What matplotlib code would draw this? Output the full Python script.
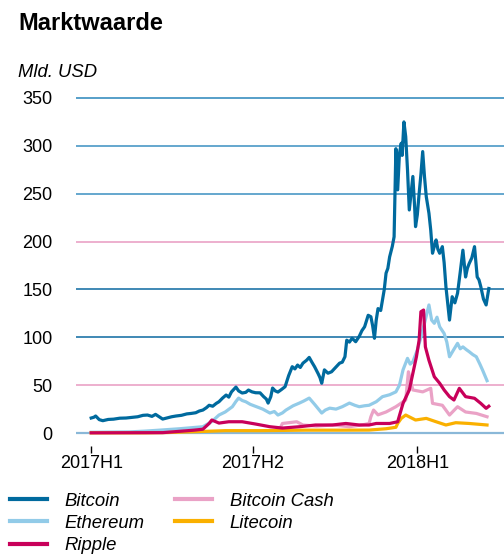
import numpy as np
import pandas as pd
import matplotlib
matplotlib.use("Agg")
import matplotlib.pyplot as plt

plt.rcParams['font.family'] = ['Liberation Sans', 'DejaVu Sans']

start = pd.Timestamp("2017-01-01")

# days since 2017-01-01, market value in bn USD
btc_days = [0, 3, 5, 9, 13, 19, 25, 32, 39, 45, 52, 58, 63, 68, 72, 76, 80, 86, 90, 95, 101, 107,
            112, 117, 121, 125, 129, 132, 136, 140, 143, 147, 151, 154, 157, 162, 165, 169, 173,
            176, 180, 184, 189, 193, 196, 198, 201, 203, 206, 209, 213, 217, 221, 225, 228, 231,
            234, 237, 241, 244, 247, 250, 254, 256, 258, 261, 265, 269, 273, 278, 281, 284,
            286, 289, 292, 296, 300, 303, 306, 310, 313, 315, 317, 319, 321, 324, 326, 328, 330,
            332, 334, 337, 339, 341, 343, 345, 347, 348, 350, 352, 354, 356, 358, 360, 362, 363,
            365, 367, 369, 371, 373, 375, 378, 380, 382, 384, 386, 388, 390, 393, 395, 397, 399,
            401, 404, 407, 410, 413, 416, 419, 421, 423, 426, 429, 432, 434, 436, 439, 442, 445]
btc_vals = [15.7, 16.5, 17.8, 14.0, 12.9, 14.2, 14.5, 15.5, 15.7, 16.3, 17.0, 18.5, 18.8, 17.4,
            19.5, 17.0, 14.6, 16.0, 17.0, 17.8, 18.5, 20.0, 20.5, 21.2, 23.0, 24.0, 26.5, 29.0,
            28.0, 31.0, 32.7, 36.5, 39.7, 37.5, 43.0, 48.0, 44.0, 41.8, 42.5, 44.9, 43.0, 42.1,
            42.0, 38.0, 35.5, 31.3, 38.0, 47.0, 44.0, 42.8, 45.5, 48.4, 60.0, 69.3, 67.0, 71.0,
            68.5, 73.0, 76.0, 79.0, 74.0, 69.3, 62.0, 58.0, 52.0, 66.0, 62.5, 64.0, 68.0, 73.0,
            74.0, 79.7, 97.0, 95.0, 99.0, 95.4, 101.0, 107.0, 111.0, 123.0, 121.5, 112.0, 99.0,
            118.0, 130.0, 128.0, 139.0, 150.0, 167.0, 172.0, 184.0, 195.0, 205.0, 297.0, 254.0,
            292.0, 302.7, 290.0, 325.0, 309.6, 275.0, 233.0, 250.0, 268.0, 236.0, 215.6, 228.0,
            250.0, 270.0, 294.0, 268.0, 247.0, 229.6, 212.0, 187.8, 195.0, 201.7, 192.0, 187.8,
            194.7, 178.0, 152.9, 135.0, 118.0, 142.4, 136.0, 146.0, 168.0, 191.0, 163.0, 172.0,
            177.0, 183.0, 194.7, 163.0, 160.0, 153.0, 140.0, 133.8, 151.0]

eth_days = [0, 43, 60, 76, 99, 125, 135, 143, 150, 158, 162, 165, 169, 173, 178, 185, 192, 200,
            205, 209, 214, 218, 226, 233, 238, 244, 250, 258, 262, 267, 274, 281, 289, 295, 300,
            306, 311, 319, 326, 334, 341, 345, 349, 354, 357, 360, 365, 369, 373, 378, 381, 384,
            387, 390, 395, 398, 401, 405, 410, 413, 416, 420, 423, 427, 431, 435, 438, 443]
eth_vals = [0.8, 1.2, 2.0, 3.0, 4.5, 6.6, 12.0, 18.8, 22.0, 27.5, 33.0, 36.5, 34.0, 32.7, 30.0,
            27.5, 25.0, 20.9, 22.5, 18.8, 21.0, 24.0, 28.5, 31.3, 33.5, 36.5, 30.0, 20.9, 24.0,
            26.0, 25.0, 27.5, 31.3, 29.0, 27.5, 28.5, 29.0, 32.7, 38.0, 40.0, 43.0, 50.0, 66.0,
            78.0, 72.0, 74.5, 86.7, 100.0, 114.6, 133.8, 118.0, 114.6, 121.0, 111.0, 104.0, 95.0,
            79.7, 86.0, 93.7, 88.0, 90.0, 87.0, 85.0, 82.0, 79.7, 72.0, 65.8, 54.7]

xrp_days = [0, 80, 95, 115, 125, 132, 135, 143, 154, 169, 184, 200, 214, 233, 251, 270, 285,
            300, 311, 319, 334, 343, 349, 356, 364, 367, 369, 372, 374, 378, 384, 390, 395, 401,
            406, 412, 419, 429, 436, 442, 445]
xrp_vals = [0.2, 0.4, 1.5, 3.0, 4.0, 10.0, 13.6, 10.4, 11.8, 11.8, 9.4, 6.6, 5.2, 6.6, 8.4, 8.4,
            10.0, 8.4, 8.4, 10.0, 10.0, 11.8, 31.0, 45.0, 79.7, 97.0, 126.7, 128.5, 90.0, 76.0,
            58.8, 52.0, 45.0, 38.0, 34.5, 46.7, 38.0, 36.3, 31.0, 25.8, 28.0]

bch_days = [212, 214, 230, 237, 252, 270, 289, 306, 311, 313, 316, 321, 330, 341, 352, 355, 360,
            371, 380, 382, 393, 401, 410, 419, 431, 443]
bch_vals = [6.0, 10.0, 11.8, 8.4, 7.3, 8.4, 6.6, 9.0, 10.0, 17.0, 24.0, 19.0, 22.0, 27.5, 34.5,
            64.0, 45.0, 43.0, 46.7, 31.0, 29.0, 18.8, 27.5, 22.0, 20.5, 17.0]

ltc_days = [0, 60, 85, 120, 150, 190, 240, 280, 311, 330, 341, 343, 347, 352, 363, 375, 386, 397,
            408, 423, 443]
ltc_vals = [0.2, 0.2, 0.5, 1.5, 2.5, 2.5, 3.0, 3.0, 3.1, 4.5, 6.0, 10.0, 15.3, 18.8, 13.6, 15.3,
            11.8, 8.4, 10.8, 10.0, 8.4]

series = [
    ("Bitcoin", btc_days, btc_vals, "#006a9e"),
    ("Ethereum", eth_days, eth_vals, "#92cbe8"),
    ("Ripple", xrp_days, xrp_vals, "#c8005a"),
    ("Bitcoin Cash", bch_days, bch_vals, "#eaa2c6"),
    ("Litecoin", ltc_days, ltc_vals, "#fab000"),
]

y_ticks = [0, 50, 100, 150, 200, 250, 300, 350]
grid_colors = ["#8ab8d8", "#eaa2c6", "#1f74a8", "#1f74a8", "#eaa2c6", "#4a98c6", "#4a98c6", "#3a8fc0"]
x_ticks = ["2017-01-01", "2017-07-01", "2018-01-01"]
x_labels = ["2017H1", "2017H2", "2018H1"]
x_tick_colors = ["#8ab8d8", "#eaa2c6", "#eaa2c6"]

fig = plt.figure(figsize=(5.04, 5.54), dpi=100)
ax = fig.add_axes([0.1508, 0.2097, 0.8492, 0.6221])
for s in ax.spines.values():
    s.set_visible(False)
ax.spines["bottom"].set_position(("outward", 6))

for yv, c in zip(y_ticks, grid_colors):
    ax.axhline(yv, color=c, lw=1.2 if yv else 1.6, zorder=0)

order = [1, 3, 4, 2, 0]
lines = {}
for i in order:
    name, d, v, c = series[i]
    dates = start + pd.to_timedelta(d, unit="D")
    ln, = ax.plot(dates, v, color=c, lw=2.3, label=name, solid_joinstyle="round")
    lines[name] = ln

ax.set_ylim(-5, 355)
ax.set_xlim(pd.Timestamp("2016-12-15"), pd.Timestamp("2018-04-08"))
ax.set_yticks(y_ticks)
ax.set_yticklabels([str(t) for t in y_ticks], fontsize=13)
ax.tick_params(axis="y", length=0, pad=17)
ax.set_xticks([pd.Timestamp(t) for t in x_ticks])
ax.set_xticklabels(x_labels, fontsize=13)
ax.tick_params(axis="x", length=5, width=1, pad=1.5, direction="out")
for t, c in zip(ax.xaxis.get_major_ticks(), x_tick_colors):
    t.tick1line.set_color(c)

fig.text(0.036, 0.958, "Marktwaarde", fontsize=17, fontweight="bold", va="center", ha="left")
fig.text(0.036, 0.87, "Mld. USD", fontsize=13.3, style="italic", va="center", ha="left")

handles = [lines[n] for n in ["Bitcoin", "Ethereum", "Ripple", "Bitcoin Cash", "Litecoin"]]
leg = fig.legend(handles, [h.get_label() for h in handles], ncol=2, loc="upper left",
                 bbox_to_anchor=(0.02, 0.111), frameon=False,
                 prop={"size": 13.3, "style": "italic"},
                 handlelength=2.0, handletextpad=0.95, columnspacing=1.65,
                 labelspacing=0.29, borderaxespad=0, borderpad=0)
for lh in leg.get_lines():
    lh.set_linewidth(3)

fig.savefig("out.png", dpi=100)
